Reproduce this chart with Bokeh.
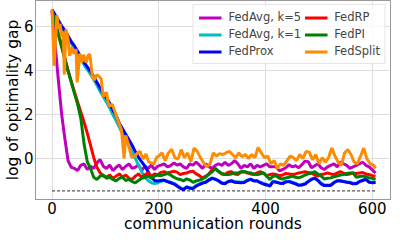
from bokeh.plotting import figure
from bokeh.models import Range1d, FixedTicker, Legend, LegendItem
from bokeh.embed import file_html
from bokeh.resources import INLINE

# communication rounds sampled for the smooth-ish series
rounds = list(range(0, 607, 6))

fedavg_k5 = [6.7, 5.1, 3.5, 2.0, 0.9, -0.1, -0.4, -0.45, -0.55, -0.3,
             -0.25, -0.5, -0.35, -0.45, -0.2, -0.05, -0.35, -0.45, -0.3, -0.55,
             -0.4, -0.3, -0.5, -0.35, -0.25, -0.45, -0.4, -0.3, -0.55, -0.35,
             -0.45, -0.3, -0.5, -0.35,
             -0.3, -0.25, -0.38, -0.33, -0.2, -0.3, -0.25, -0.38, -0.45, -0.25,
             -0.3, -0.17, -0.3, -0.45, -0.24, -0.38, -0.45, -0.31, -0.24, -0.31,
             -0.17, -0.31, -0.24, -0.1, -0.24, -0.45, -0.31, -0.38, -0.24, -0.45,
             -0.31, -0.38, -0.31, -0.24, -0.38,
             -0.38, -0.38, -0.56, -0.5, -0.42, -0.28, -0.38, -0.33, -0.42, -0.28,
             -0.12, -0.15, -0.42, -0.33, -0.24, -0.42, -0.5, -0.38, -0.31, -0.24,
             -0.38, -0.17, -0.24, -0.31, -0.45, -0.38, -0.31, -0.24, -0.17, -0.31,
             -0.38, -0.52, -0.66]

fedavg_k1 = [6.7, 6.45, 6.2, 5.95, 5.72, 5.48, 5.22, 5.0, 4.75, 4.5,
             4.25, 4.03, 3.82, 3.58, 3.32, 3.05, 2.8, 2.55, 2.28, 1.98,
             1.72, 1.42, 1.12, 0.85, 0.55, 0.28, 0.0, -0.3, -0.6, -0.85,
             -1.0, -1.1, -1.14, -1.1,
             -1.04, -1.0, -1.03, -1.08, -1.13, -1.22, -1.32, -1.38, -1.28, -1.32,
             -1.34, -1.22, -1.15, -1.1, -1.05, -0.96, -0.88, -0.93, -1.0, -1.1,
             -1.12, -1.03, -1.0, -1.05, -1.06, -1.08, -1.06, -0.98, -0.93, -1.0,
             -1.0, -1.08, -1.13, -1.18, -1.22,
             -1.03, -1.06, -1.1, -1.12, -1.04, -1.03, -1.08, -1.12, -1.2, -1.18,
             -1.14, -1.03, -0.93, -0.88, -0.98, -1.12, -1.2, -1.2, -1.2, -1.08,
             -1.0, -1.0, -1.03, -1.06, -1.08, -1.12, -1.12, -1.03, -0.98, -0.93,
             -1.06, -1.08, -1.07]

fedprox = [6.75, 6.5, 6.25, 6.0, 5.8, 5.55, 5.3, 5.1, 4.85, 4.6,
           4.35, 4.15, 3.95, 3.7, 3.45, 3.2, 2.95, 2.75, 2.5, 2.2,
           1.95, 1.6, 1.35, 1.1, 0.85, 0.6, 0.3, 0.05, -0.15, -0.35,
           -0.6, -0.85, -1.0, -1.02,
           -1.0, -0.98, -1.05, -1.1, -1.15, -1.25, -1.35, -1.42, -1.3, -1.35,
           -1.37, -1.25, -1.18, -1.12, -1.08, -0.98, -0.9, -0.95, -1.02, -1.12,
           -1.15, -1.05, -1.02, -1.08, -1.09, -1.1, -1.09, -1.0, -0.95, -1.02,
           -1.02, -1.1, -1.16, -1.2, -1.25,
           -1.05, -1.08, -1.12, -1.14, -1.06, -1.05, -1.1, -1.15, -1.22, -1.2,
           -1.16, -1.05, -0.95, -0.9, -1.0, -1.15, -1.23, -1.23, -1.22, -1.1,
           -1.02, -1.02, -1.05, -1.08, -1.1, -1.15, -1.15, -1.05, -1.0, -0.95,
           -1.08, -1.1, -1.09]

fedrp = [6.7, 6.2, 5.65, 5.1, 4.55, 4.0, 3.5, 3.0, 2.55, 2.1,
         1.65, 1.15, 0.6, 0.05, -0.4, -0.65, -0.8, -0.85, -0.75, -0.9,
         -0.8, -0.7, -0.85, -0.75, -0.9, -0.95, -0.8, -0.7, -0.85, -0.75,
         -0.65, -0.8, -0.7, -0.75,
         -0.63, -0.6, -0.66, -0.62, -0.58, -0.62, -0.73, -0.68, -0.66, -0.6,
         -0.58, -0.7, -0.78, -0.88, -0.8, -0.7, -0.5, -0.48, -0.6, -0.7,
         -0.73, -0.62, -0.6, -0.7, -0.73, -0.62, -0.6, -0.66, -0.7, -0.73,
         -0.65, -0.6, -0.66, -0.78, -0.73,
         -0.7, -0.73, -0.78, -0.75, -0.68, -0.7, -0.73, -0.7, -0.66, -0.63,
         -0.6, -0.64, -0.66, -0.75, -0.8, -0.73, -0.7, -0.66, -0.7, -0.73,
         -0.66, -0.6, -0.66, -0.73, -0.7, -0.66, -0.68, -0.66, -0.64, -0.7,
         -0.73, -0.78, -0.8]

fedpi = [6.7, 6.15, 5.6, 5.05, 4.5, 3.95, 3.45, 2.95, 2.45, 1.8,
         0.65, -0.15, -0.45, -0.85, -0.95, -0.8, -0.75, -0.9, -0.85, -0.95,
         -1.02, -0.9, -0.85, -1.0, -0.95, -1.05, -1.1, -1.0, -0.9, -0.85,
         -0.8, -0.9, -0.8, -0.75,
         -0.78, -0.73, -0.68, -0.75, -0.85, -0.92, -0.95, -1.02, -0.92, -0.98,
         -1.08, -1.02, -0.98, -0.92, -0.85, -0.7, -0.6, -0.45, -0.58, -0.68,
         -0.73, -0.73, -0.7, -0.66, -0.66, -0.6, -0.59, -0.63, -0.66, -0.7,
         -0.73, -0.7, -0.66, -0.8, -0.95,
         -0.8, -0.8, -0.9, -0.93, -0.88, -0.85, -0.8, -0.85, -0.88, -0.82,
         -0.75, -0.7, -0.66, -0.6, -0.7, -0.8, -0.93, -0.9, -0.88, -0.83,
         -0.8, -0.75, -0.73, -0.68, -0.66, -0.66, -0.85, -0.82, -0.8, -0.83,
         -0.88, -0.9, -0.95]

# FedSplit is sampled on its own rounds (its early oscillations are sharp)
fedsplit_rounds = ([0, 4, 9, 12, 15, 18, 21, 23, 26, 30, 33, 37, 41, 45, 47, 52,
                    56, 59, 64, 68, 71, 75, 79, 84, 89, 92, 96, 102, 106, 113,
                    118, 124, 130, 135, 138, 144, 149, 155, 160, 165, 170, 176,
                    181, 186, 191, 196]
                   + list(range(200, 603, 6)) + [606])
fedsplit = [6.75, 4.2, 6.5, 5.9, 6.1, 5.5, 5.75, 3.8, 5.85, 5.4,
            4.65, 5.05, 4.75, 4.95, 3.45, 4.75, 4.35, 4.7, 4.35, 4.7,
            4.7, 3.8, 3.55, 3.8, 3.7, 3.6, 2.8, 3.0, 2.4, 2.45,
            2.1, 1.7, 1.3, 0.0, 1.05, 0.55, 0.05, 0.1, 0.25, 0.32,
            -0.03, 0.2, -0.15, -0.2, -0.24, 0.05,
            0.11, 0.25, -0.1, 0.25, 0.42, 0.04, -0.03, 0.4, 0.04, 0.25,
            -0.14, 0.47, 0.32, 0.04, -0.2, -0.38, -0.24, 0.25, 0.11, 0.22,
            0.18, 0.25, 0.32, 0.18, 0.04, 0.25, 0.08, 0.18, 0.0, 0.18,
            0.04, 0.5, 0.25, 0.04, 0.11, -0.24,
            -0.1, -0.45, -0.24, -0.31, -0.1, 0.11, 0.04, -0.1, 0.18, 0.0,
            0.32, 0.28, -0.06, 0.18, -0.24, 0.04, -0.17, 0.04, 0.47, 0.11,
            -0.17, -0.31, 0.25, 0.4, 0.18, -0.17, -0.24, 0.11, 0.47, -0.03,
            -0.24, -0.3, -0.45]

optimum_level = -1.47

series = [
    ("FedAvg, k=5", rounds, fedavg_k5, "#bf00bf"),
    ("FedAvg, k=1", rounds, fedavg_k1, "#00bfbf"),
    ("FedProx", rounds, fedprox, "#0000ff"),
    ("FedRP", rounds, fedrp, "#ff0000"),
    ("FedPI", rounds, fedpi, "#008000"),
    ("FedSplit", fedsplit_rounds, fedsplit, "#ff8c00"),
]

FONT = "DejaVu Sans"

p = figure(width=391, height=235, output_backend="svg", toolbar_location=None,
           x_range=Range1d(-31, 634), y_range=Range1d(-1.86, 7.16),
           min_border_left=0, min_border_right=1, min_border_top=0,
           min_border_bottom=0)

p.background_fill_color = "white"
p.border_fill_color = "white"
p.outline_line_color = "#999999"
p.outline_line_width = 1

p.xgrid.grid_line_color = "#dddddd"
p.ygrid.grid_line_color = "#dddddd"

p.xaxis.ticker = FixedTicker(ticks=[0, 200, 400, 600])
p.yaxis.ticker = FixedTicker(ticks=[0, 2, 4, 6])
p.xaxis.axis_label = "communication rounds"
p.yaxis.axis_label = "log of optimality gap"
for ax in (p.xaxis[0], p.yaxis[0]):
    ax.axis_line_color = "#999999"
    ax.major_tick_line_color = None
    ax.minor_tick_line_color = None
    ax.major_tick_out = 0
    ax.major_tick_in = 0
    ax.minor_tick_out = 0
    ax.minor_tick_in = 0
    ax.major_label_text_font = FONT
    ax.major_label_text_font_size = "15px"
    ax.major_label_text_color = "black"
    ax.axis_label_text_font = FONT
    ax.axis_label_text_font_size = "15.5px"
    ax.axis_label_text_font_style = "normal"
    ax.axis_label_text_color = "black"
    ax.major_label_standoff = 2
p.xaxis.axis_label_standoff = -2
p.yaxis.axis_label_standoff = -1

p.line(rounds[::len(rounds) - 1], [optimum_level, optimum_level],
       line_color="#555555", line_width=1.3, line_dash="3 2")

items = []
for name, xs, ys, col in series:
    r = p.line(xs, ys, line_color=col, line_width=3)
    items.append(LegendItem(label=name, renderers=[r]))

legend = Legend(items=items, location="top_right", ncols=2)
legend.label_text_font = FONT
legend.label_text_font_size = "11.5px"
legend.glyph_width = 23
legend.glyph_height = 13
legend.label_height = 13
legend.label_standoff = 7
legend.spacing = 3
legend.padding = 5
legend.margin = 4
legend.border_line_color = "#cccccc"
legend.background_fill_alpha = 0.8
p.add_layout(legend)

open("out.html", "w").write(file_html(p, INLINE))
